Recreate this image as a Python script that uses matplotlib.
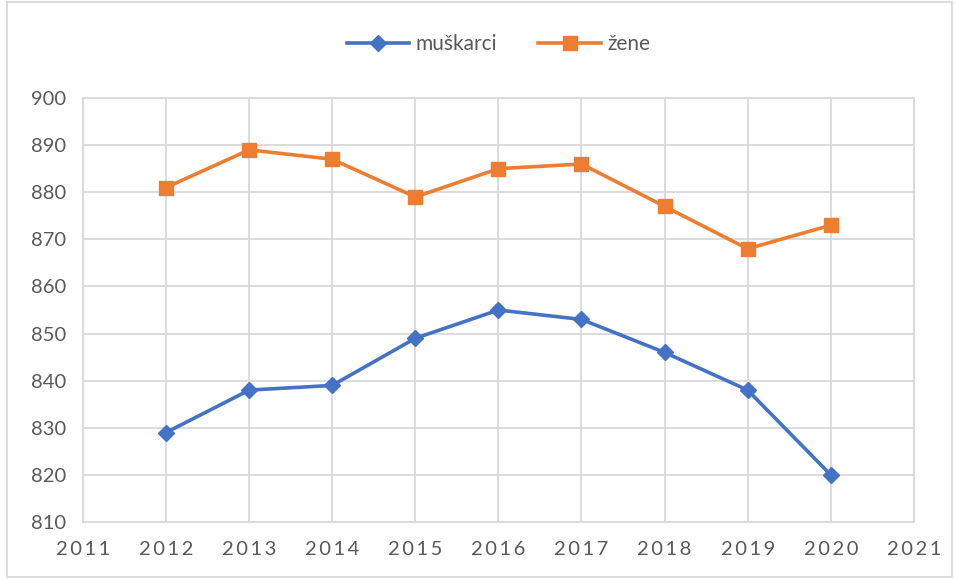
import matplotlib
matplotlib.use('Agg')
import matplotlib.pyplot as plt
from matplotlib.patches import Rectangle

godine = [2012, 2013, 2014, 2015, 2016, 2017, 2018, 2019, 2020]
muskarci = [829, 838, 839, 849, 855, 853, 846, 838, 820]
zene = [881, 889, 887, 879, 885, 886, 877, 868, 873]
x_ticks = list(range(2011, 2022))
y_ticks = list(range(810, 901, 10))

plt.rcParams['font.family'] = ['Lato', 'DejaVu Sans']

fig = plt.figure(figsize=(9.55, 5.79), dpi=100)
ax = fig.add_axes([0.0869, 0.0984, 0.870, 0.7323])

ax.plot(godine, muskarci, color='#4472C4', lw=2.6, marker='D', ms=8.5, label='muškarci')
ax.plot(godine, zene, color='#ED7D31', lw=2.6, marker='s', ms=10, label='žene')

ax.set_xlim(2011, 2021)
ax.set_ylim(810, 900)
ax.set_xticks(x_ticks)
ax.set_xticklabels(['\u2009'.join(str(t)) for t in x_ticks])
ax.set_yticks(y_ticks)
ax.grid(True, color='#D9D9D9', lw=1.3)
ax.set_axisbelow(True)
for s in ax.spines.values():
    s.set_color('#D9D9D9')
    s.set_linewidth(1.3)
ax.tick_params(length=0, labelsize=14.5, colors='#595959')
ax.tick_params(axis='x', pad=14)
ax.tick_params(axis='y', pad=12)

leg = ax.legend(loc='lower center', bbox_to_anchor=(0.5, 1.06), ncol=2, frameon=False,
                fontsize=15, handlelength=3.0, columnspacing=2.0, handletextpad=0.3)
for t in leg.get_texts():
    t.set_color('#595959')

fig.patches.append(Rectangle((0.007, 0.004), 0.99, 0.992, transform=fig.transFigure,
                             fill=False, edgecolor='#D9D9D9', lw=1.3))

fig.savefig('out.png', dpi=100)
